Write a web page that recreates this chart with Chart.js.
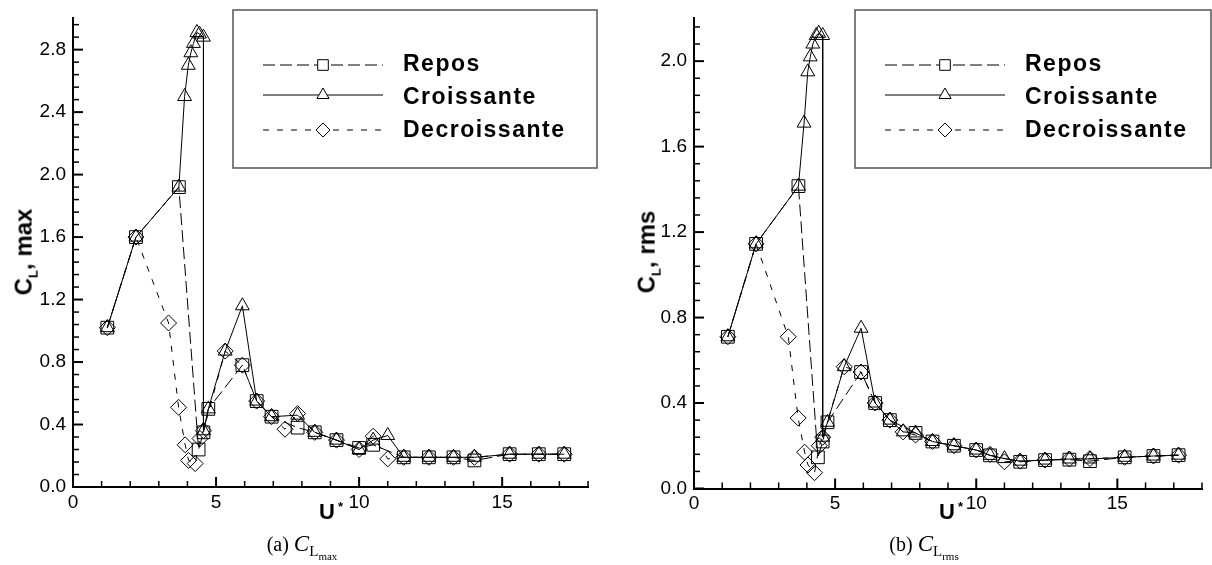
<!DOCTYPE html>
<html>
<head>
<meta charset="utf-8">
<script src="https://cdn.jsdelivr.net/npm/chart.js@4.4.1/dist/chart.umd.min.js"></script>
<style>
    body { margin: 0; background: #fff; width: 1212px; height: 565px; position: relative; overflow: hidden; font-family: "Liberation Sans", Arial, sans-serif; }
    canvas { position: absolute; top: 0; }
    .ytitle { position: absolute; font-weight: bold; font-size: 24px; white-space: nowrap; transform: translate(-50%, -50%) rotate(-90deg); }
    .ytitle sub { font-size: 13px; }
    .xtitle { position: absolute; font-weight: bold; font-size: 22px; white-space: nowrap; }
    .xtitle sup { font-size: 13px; position: relative; left: 3px; }
    .caption { position: absolute; font-family: "Liberation Serif", serif; font-size: 20px; white-space: nowrap; transform: translateX(-50%); }
    .caption i { font-size: 23px; }
    .caption sub { font-size: 15px; }
    .caption sub sub { font-size: 11px; }
</style>
</head>
<body>
<canvas id="chartMax" width="606" height="565" style="left:0"></canvas>
<canvas id="chartRms" width="606" height="565" style="left:606px"></canvas>

<div class="ytitle" style="left:25px; top:252px">C<sub>L</sub>, max</div>
<div class="ytitle" style="left:648px; top:252px">C<sub>L</sub>, rms</div>
<div class="xtitle" style="left:319px; top:499px">U<sup>*</sup></div>
<div class="xtitle" style="left:939px; top:499px">U<sup>*</sup></div>
<div class="caption" style="left:302px; top:531px">(a) <i>C</i><sub>L<sub>max</sub></sub></div>
<div class="caption" style="left:924px; top:531px">(b) <i>C</i><sub>L<sub>rms</sub></sub></div>

<script>
// --- DATA ---
const seriesLabels = ['Repos', 'Croissante', 'Decroissante'];

// (a) C_L,max
const maxReposU = [1.2, 2.2, 3.7, 4.39, 4.56, 4.73, 5.92, 6.42, 6.94, 7.85, 8.45, 9.21, 10.0, 10.49, 11.56, 12.44, 13.3, 14.03, 15.26, 16.28, 17.17];
const maxReposCL = [1.02, 1.6, 1.92, 0.24, 0.35, 0.5, 0.78, 0.55, 0.45, 0.38, 0.35, 0.3, 0.25, 0.27, 0.19, 0.19, 0.19, 0.17, 0.21, 0.21, 0.21];
const maxCroisU = [1.2, 2.2, 3.7, 3.9, 4.03, 4.12, 4.21, 4.33, 4.42, 4.56, 4.56, 4.73, 5.32, 5.92, 6.42, 6.94, 7.85, 8.45, 9.21, 10.0, 10.49, 11.0, 11.56, 12.44, 13.3, 14.03, 15.26, 16.28, 17.17];
const maxCroisCL = [1.02, 1.6, 1.92, 2.5, 2.7, 2.78, 2.84, 2.91, 2.9, 2.88, 0.36, 0.5, 0.87, 1.16, 0.55, 0.45, 0.46, 0.35, 0.3, 0.24, 0.3, 0.33, 0.19, 0.19, 0.19, 0.19, 0.21, 0.21, 0.21];
const maxDecroisU = [1.2, 2.2, 3.34, 3.69, 3.92, 4.04, 4.27, 4.44, 4.56, 5.32, 5.92, 6.42, 6.94, 7.41, 7.85, 8.45, 9.21, 10.0, 10.49, 11.0, 11.56, 12.44, 13.3, 14.03, 15.26, 16.28, 17.17];
const maxDecroisCL = [1.02, 1.6, 1.05, 0.51, 0.27, 0.17, 0.15, 0.31, 0.36, 0.87, 0.78, 0.55, 0.45, 0.37, 0.47, 0.35, 0.3, 0.24, 0.325, 0.18, 0.19, 0.19, 0.19, 0.19, 0.21, 0.21, 0.21];

// (b) C_L,rms
const rmsReposU = [1.2, 2.2, 3.7, 4.39, 4.56, 4.73, 5.92, 6.42, 6.94, 7.85, 8.45, 9.21, 10.0, 10.49, 11.56, 12.44, 13.3, 14.03, 15.26, 16.28, 17.17];
const rmsReposCL = [0.71, 1.145, 1.415, 0.146, 0.22, 0.31, 0.545, 0.40, 0.32, 0.26, 0.22, 0.20, 0.18, 0.155, 0.125, 0.133, 0.135, 0.128, 0.146, 0.152, 0.156];
const rmsCroisU = [1.2, 2.2, 3.7, 3.9, 4.03, 4.12, 4.21, 4.33, 4.42, 4.56, 4.56, 4.73, 5.32, 5.92, 6.42, 6.94, 7.41, 7.85, 8.45, 9.21, 10.0, 10.49, 11.0, 11.56, 12.44, 13.3, 14.03, 15.26, 16.28, 17.17];
const rmsCroisCL = [0.71, 1.145, 1.415, 1.71, 1.95, 2.02, 2.08, 2.12, 2.13, 2.12, 0.24, 0.31, 0.57, 0.75, 0.40, 0.32, 0.265, 0.26, 0.22, 0.20, 0.18, 0.155, 0.14, 0.128, 0.133, 0.138, 0.138, 0.146, 0.152, 0.156];
const rmsDecroisU = [1.2, 2.2, 3.34, 3.69, 3.92, 4.04, 4.27, 4.44, 4.56, 5.32, 5.92, 6.42, 6.94, 7.41, 7.85, 8.45, 9.21, 10.0, 10.49, 11.0, 11.56, 12.44, 13.3, 14.03, 15.26, 16.28, 17.17];
const rmsDecroisCL = [0.71, 1.145, 0.71, 0.33, 0.17, 0.11, 0.074, 0.2, 0.24, 0.57, 0.545, 0.40, 0.32, 0.265, 0.25, 0.22, 0.20, 0.18, 0.16, 0.125, 0.128, 0.133, 0.138, 0.14, 0.146, 0.152, 0.156];

// Axis ticks
const xTicks = [0, 5, 10, 15];
const maxYTicks = [0, 0.4, 0.8, 1.2, 1.6, 2.0, 2.4, 2.8];
const rmsYTicks = [0, 0.4, 0.8, 1.2, 1.6, 2.0];

// --- STYLES ---
const seriesStyle = [
    { pointStyle: 'rect', radius: 9, dash: [12, 5] },
    { pointStyle: 'triangle', radius: 8, dash: [] },
    { pointStyle: 'rectRot', radius: 8, dash: [6, 8] }
];

function toPoints(xs, ys) {
    return xs.map((x, i) => ({ x: x, y: ys[i] }));
}

function makeDatasets(pairs) {
    return pairs.map((p, i) => ({
        label: seriesLabels[i],
        data: toPoints(p[0], p[1]),
        showLine: true,
        borderColor: '#000',
        borderWidth: 1,
        borderDash: seriesStyle[i].dash,
        pointStyle: seriesStyle[i].pointStyle,
        pointRadius: seriesStyle[i].radius,
        pointBorderColor: '#000',
        pointBorderWidth: 1,
        pointBackgroundColor: 'rgba(0,0,0,0)',
        tension: 0
    }));
}

// inward major/minor tick marks
const innerTicks = {
    id: 'innerTicks',
    afterDraw(chart, args, opts) {
        const { ctx, chartArea } = chart;
        const xs = chart.scales.x, ys = chart.scales.y;
        ctx.save();
        ctx.strokeStyle = '#000';
        for (let v = 0; v <= xs.max + 1e-9; v += 1) {
            const px = xs.getPixelForValue(v);
            const major = v % 5 === 0;
            ctx.lineWidth = major ? 2 : 1.5;
            ctx.beginPath();
            ctx.moveTo(px, chartArea.bottom);
            ctx.lineTo(px, chartArea.bottom - (major ? 10 : 6));
            ctx.stroke();
        }
        for (let i = 0; i * 0.08 <= ys.max + 1e-9; i++) {
            const py = ys.getPixelForValue(i * 0.08);
            const major = i % 5 === 0;
            ctx.lineWidth = major ? 2 : 1.5;
            ctx.beginPath();
            ctx.moveTo(chartArea.left, py);
            ctx.lineTo(chartArea.left + (major ? 10 : 6), py);
            ctx.stroke();
        }
        ctx.restore();
    }
};

// boxed legend with line + marker samples
const boxLegend = {
    id: 'boxLegend',
    afterDraw(chart, args, opts) {
        const ctx = chart.ctx;
        const b = opts.box;
        ctx.save();
        ctx.strokeStyle = '#555';
        ctx.lineWidth = 1.5;
        ctx.strokeRect(b.left, b.top, b.right - b.left, b.bottom - b.top);

        const rowsY = [65, 95, 130];
        const baseY = [71, 104, 137];
        const legendR = [7.5, 7, 7];
        chart.data.datasets.forEach((ds, i) => {
            const y = rowsY[i];
            ctx.strokeStyle = '#000';
            ctx.lineWidth = 1;
            ctx.setLineDash(seriesStyle[i].dash);
            ctx.beginPath();
            ctx.moveTo(b.left + 30, y);
            ctx.lineTo(b.left + 150, y);
            ctx.stroke();
            ctx.setLineDash([]);
            ctx.fillStyle = '#fff';
            Chart.helpers.drawPoint(ctx, {
                pointStyle: seriesStyle[i].pointStyle,
                radius: legendR[i],
                rotation: 0,
                borderWidth: 1
            }, b.left + 90, y);

            ctx.fillStyle = '#000';
            ctx.font = 'bold 23px "Liberation Sans", Arial, sans-serif';
            ctx.letterSpacing = '1.5px';
            ctx.textBaseline = 'alphabetic';
            ctx.fillText(ds.label, b.left + 170, baseY[i]);
        });
        ctx.restore();
    }
};

function buildChart(canvasId, datasets, yMax, yTicks, layout, box) {
    return new Chart(document.getElementById(canvasId), {
        type: 'scatter',
        data: { datasets: datasets },
        plugins: [innerTicks, boxLegend],
        options: {
            responsive: false,
            animation: false,
            devicePixelRatio: 1,
            layout: { padding: { top: 16, right: layout.right, left: 0, bottom: 0 } },
            plugins: {
                legend: { display: false },
                tooltip: { enabled: false },
                boxLegend: { box: box }
            },
            scales: {
                x: {
                    type: 'linear',
                    min: 0,
                    max: 18,
                    afterFit: s => { s.height = layout.xHeight; },
                    afterBuildTicks: s => { s.ticks = xTicks.map(v => ({ value: v })); },
                    grid: { display: false, drawTicks: false },
                    border: { display: true, color: '#000', width: 2 },
                    ticks: {
                        padding: 4,
                        color: '#000',
                        maxRotation: 0,
                        font: { family: '"Liberation Sans", Arial, sans-serif', size: 19 },
                        callback: v => String(v)
                    }
                },
                y: {
                    type: 'linear',
                    min: 0,
                    max: yMax,
                    afterFit: s => { s.width = layout.yWidth; },
                    afterBuildTicks: s => { s.ticks = yTicks.map(v => ({ value: v })); },
                    grid: { display: false, drawTicks: false },
                    border: { display: true, color: '#000', width: 2 },
                    ticks: {
                        padding: 7,
                        color: '#000',
                        font: { family: '"Liberation Sans", Arial, sans-serif', size: 19 },
                        callback: v => Number(v).toFixed(1)
                    }
                }
            }
        }
    });
}

buildChart('chartMax',
    makeDatasets([[maxReposU, maxReposCL], [maxCroisU, maxCroisCL], [maxDecroisU, maxDecroisCL]]),
    3.0, maxYTicks,
    { right: 18, yWidth: 73, xHeight: 78 },
    { left: 233, top: 10, right: 597, bottom: 168 });

buildChart('chartRms',
    makeDatasets([[rmsReposU, rmsReposCL], [rmsCroisU, rmsCroisCL], [rmsDecroisU, rmsDecroisCL]]),
    2.2, rmsYTicks,
    { right: 2, yWidth: 88, xHeight: 76.5 },
    { left: 249, top: 10, right: 605, bottom: 168 });
</script>
</body>
</html>
